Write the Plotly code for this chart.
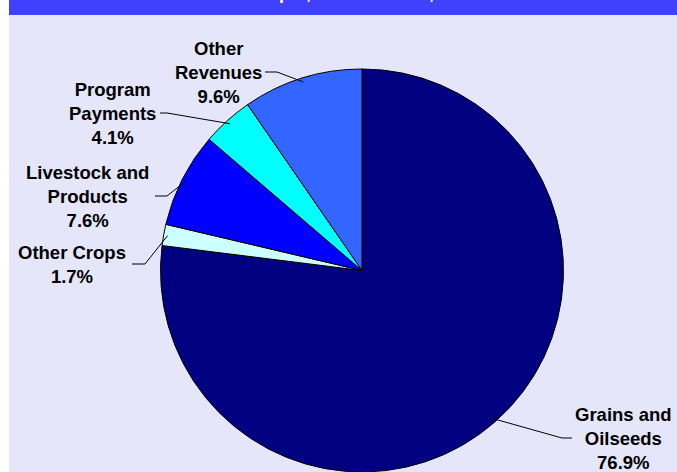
import math
import plotly.graph_objects as go

# ---- data ----
categories = ["Grains and Oilseeds", "Other Crops", "Livestock and Products",
              "Program Payments", "Other Revenues"]
shares = [76.9, 1.7, 7.6, 4.1, 9.6]
label_texts = ["Grains and<br>Oilseeds<br>76.9%", "Other Crops<br>1.7%",
               "Livestock and<br>Products<br>7.6%", "Program<br>Payments<br>4.1%",
               "Other<br>Revenues<br>9.6%"]
colors = ["#000080", "#CCFFFF", "#0000FF", "#00FFFF", "#3366FF"]
title_text = "Receipts, North Dakota, 2000"

# ---- layout / style ----
W, H = 677, 472
CX, CY, R = 362.0, 270.5, 201.5
# label centre (px) and leader start/elbow x (px)
label_pos = [(623, 438), (72, 264), (87, 196), (112, 113), (218, 72)]
leader_x = [(572, 562), (132, 145), (155, 167), (160, 167), (265, 277)]
FONT = "Liberation Sans, Arial, sans-serif"


def px(x):
    return x / W


def py(y):
    return 1 - y / H


fig = go.Figure()
fig.add_trace(go.Pie(
    labels=categories, values=shares, sort=False, direction="clockwise",
    rotation=0, marker=dict(colors=colors, line=dict(color="black", width=1)),
    textinfo="none", hoverinfo="skip", showlegend=False,
    domain=dict(x=[px(CX - R), px(CX + R)], y=[0, py(CY - R)]),
))

shapes = [
    dict(type="rect", xref="paper", yref="paper", x0=px(9), x1=1, y0=0, y1=1,
         fillcolor="#E6E6FA", line=dict(width=0), layer="below"),
    dict(type="rect", xref="paper", yref="paper", x0=px(9), x1=1, y0=py(15), y1=1,
         fillcolor="#4040FF", line=dict(width=0), layer="below"),
]
annotations = []
total = sum(shares)
cum = 0.0
for i, v in enumerate(shares):
    mid = (cum + v / 2) / total * 2 * math.pi
    cum += v
    ex = CX + R * 0.98 * math.sin(mid)
    ey = CY - R * 0.98 * math.cos(mid)
    lx, ly = label_pos[i]
    sx, elx = leader_x[i]
    path = f"M {px(sx)} {py(ly)} L {px(elx)} {py(ly)} L {px(ex)} {py(ey)}"
    shapes.append(dict(type="path", xref="paper", yref="paper", path=path,
                       line=dict(color="black", width=1), layer="above"))
    annotations.append(dict(x=px(lx), y=py(ly), xref="paper", yref="paper",
                            text=f"<b>{label_texts[i]}</b>", showarrow=False,
                            xanchor="center", yanchor="middle", align="center",
                            font=dict(family=FONT, size=18.5, color="black")))

annotations.append(dict(x=px(355), y=1, xref="paper", yref="paper",
                        text=f"<b>{title_text}</b>", showarrow=False,
                        xanchor="center", yanchor="bottom", yshift=-5,
                        font=dict(family=FONT, size=18, color="white")))

fig.update_layout(
    width=W, height=H, margin=dict(l=0, r=0, t=0, b=0),
    paper_bgcolor="white", plot_bgcolor="white",
    shapes=shapes, annotations=annotations, showlegend=False,
)
fig.write_html("out.html")
